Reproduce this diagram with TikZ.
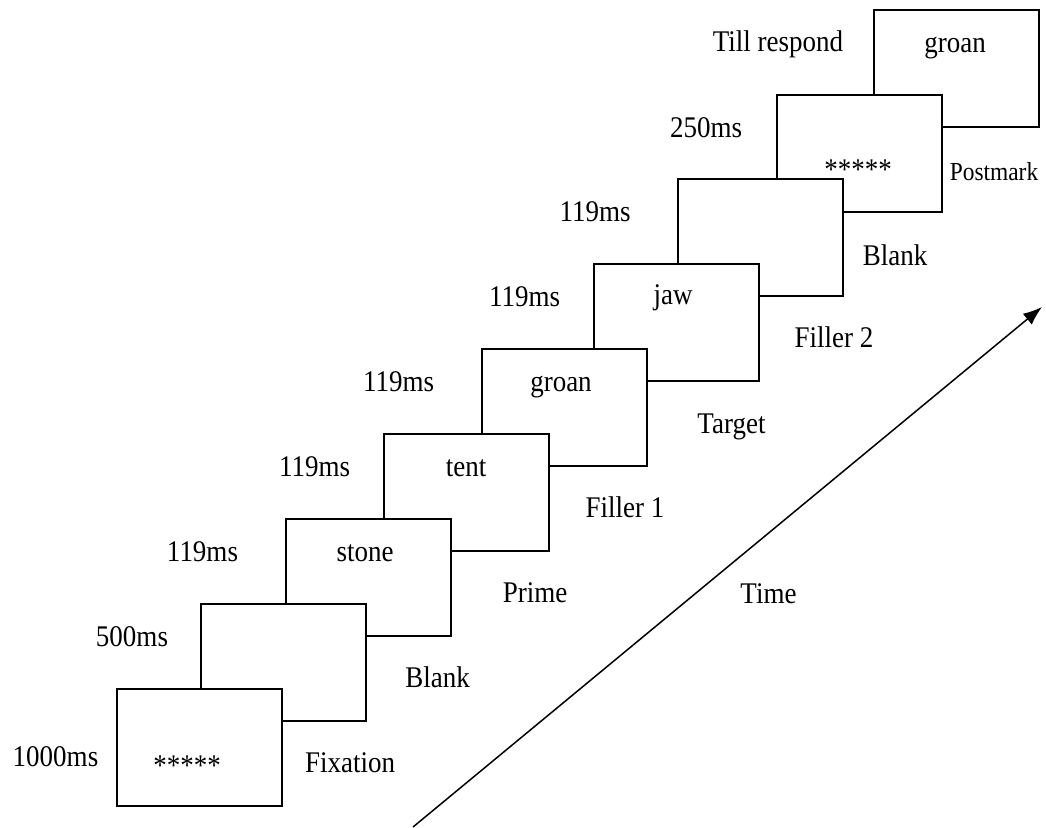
\documentclass[tikz,border=0pt]{standalone}
\usepackage{fontspec}
\setmainfont{Liberation Serif}[FakeStretch=0.9]
\usetikzlibrary{arrows.meta}
\begin{document}
\begin{tikzpicture}[x=1pt,y=-1pt,
  screen/.style={draw,line width=1.6pt,fill=white,minimum width=165pt,minimum height=117pt,inner sep=0pt,outer sep=0pt,anchor=north west},
  lbl/.style={font=\fontsize{30}{31}\selectfont,inner sep=0pt,anchor=base},
  smalllbl/.style={font=\fontsize{26}{27}\selectfont,inner sep=0pt,anchor=base}]
\useasboundingbox (0,0) rectangle (1046,827);
% screens, drawn from last to first so earlier ones are in front
\node[screen] (b9) at (874,10) {};
\node[screen] (b8) at (777,95) {};
\node[screen] (b7) at (678,179) {};
\node[screen] (b6) at (594,264) {};
\node[screen] (b5) at (482,349) {};
\node[screen] (b4) at (384,434) {};
\node[screen] (b3) at (286,519) {};
\node[screen] (b2) at (201,604) {};
\node[screen] (b1) at (117,689) {};
% contents
\node[lbl] (w1) at (187,775) {*****};
\node[lbl] (w3) at (365,561) {stone};
\node[lbl] (w4) at (466,476) {tent};
\node[lbl] (w5) at (561,391) {groan};
\node[lbl] (w6) at (673,304) {jaw};
\node[lbl] (w8) at (858,179) {*****};
\node[lbl] (w9) at (955,52) {groan};
% durations
\node[lbl] (d1) at (55.5,766) {1000ms};
\node[lbl] (d2) at (132,646) {500ms};
\node[lbl] (d3) at (202.5,561) {119ms};
\node[lbl] (d4) at (314.5,476) {119ms};
\node[lbl] (d5) at (398.5,391) {119ms};
\node[lbl] (d6) at (524.5,306) {119ms};
\node[lbl] (d7) at (595,221) {119ms};
\node[lbl] (d8) at (706,137) {250ms};
\node[lbl] (d9) at (778,51) {Till respond};
% names
\node[lbl] (n1) at (350,772) {Fixation};
\node[lbl] (n2) at (437.5,687) {Blank};
\node[lbl] (n3) at (535,602) {Prime};
\node[lbl] (n4) at (625,517) {Filler 1};
\node[lbl] (n5) at (731.5,433) {Target};
\node[lbl] (n6) at (834,347) {Filler 2};
\node[lbl] (n7) at (895,265) {Blank};
\node[smalllbl] (n8) at (994,180) {Postmark};
% time arrow
\coordinate (t0) at (413,827);
\coordinate (t1) at (1042,307);
\draw[line width=1.5pt,-{Latex[length=19pt,width=14pt]}] (t0) -- (t1);
\node[lbl] (time) at (768.5,603) {Time};
\end{tikzpicture}
\end{document}
